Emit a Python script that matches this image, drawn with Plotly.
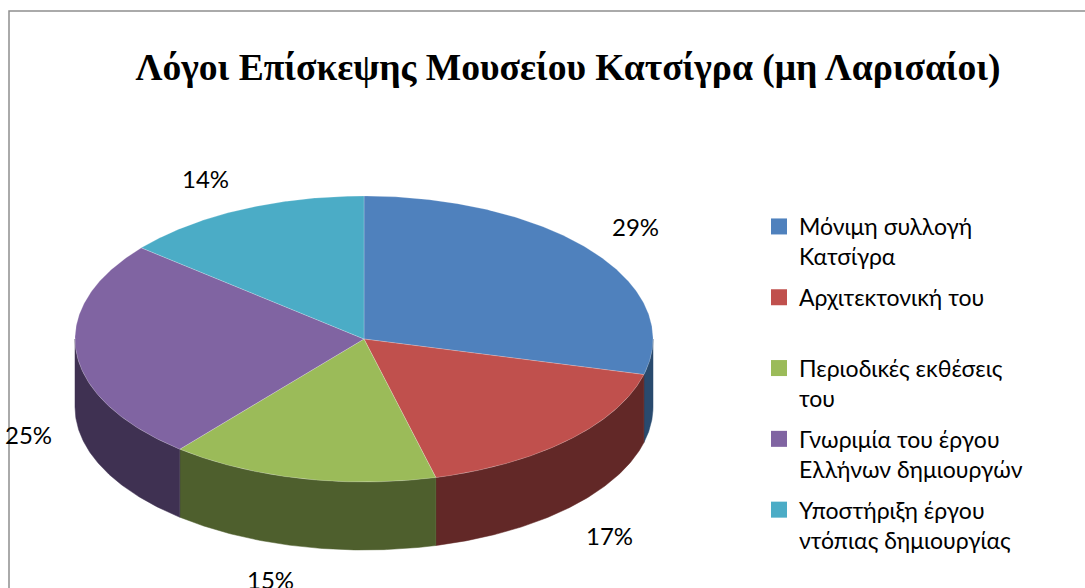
import numpy as np
import plotly.graph_objects as go

# ---- data ----
title = "Λόγοι Επίσκεψης Μουσείου Κατσίγρα (μη Λαρισαίοι)"
categories = [
    "Μόνιμη συλλογή<br>Κατσίγρα",
    "Αρχιτεκτονική του<br> ",
    "Περιοδικές εκθέσεις<br>του",
    "Γνωριμία του έργου<br>Ελλήνων δημιουργών",
    "Υποστήριξη έργου<br>ντόπιας δημιουργίας",
]
values = [29, 17, 15, 25, 14]
top_colors = ["#4F81BD", "#C0504D", "#9BBB59", "#8064A2", "#4BACC6"]
side_colors = ["#294A6E", "#622827", "#4E5F2D", "#3F3152", "#2C6A7A"]

# ---- geometry (layout constants, pixel-like axes) ----
W, H = 1085, 588
cx, cy = 364, 339
rx, ry = 289, 143
depth = 68


def pt(theta_deg, dy=0.0):
    t = np.radians(theta_deg)
    return cx + rx * np.sin(t), cy - ry * np.cos(t) + dy


fig = go.Figure()

total = float(sum(values))
bounds = np.concatenate([[0], np.cumsum(values)]) / total * 360.0

# sides (front half only)
for i, v in enumerate(values):
    a, b = max(bounds[i], 90.0), min(bounds[i + 1], 270.0)
    if a >= b:
        continue
    th = np.linspace(a, b, 120)
    xt, yt = pt(th)
    xb, yb = pt(th[::-1], depth)
    xs = np.concatenate([xt, xb, xt[:1]])
    ys = np.concatenate([yt, yb, yt[:1]])
    fig.add_trace(go.Scatter(x=xs, y=ys, fill="toself", mode="lines",
                             fillcolor=side_colors[i],
                             line=dict(color=side_colors[i], width=0.5),
                             hoverinfo="skip", showlegend=False))

# top faces
for i, v in enumerate(values):
    th = np.linspace(bounds[i], bounds[i + 1], 200)
    xa, ya = pt(th)
    xs = np.concatenate([[cx], xa, [cx]])
    ys = np.concatenate([[cy], ya, [cy]])
    fig.add_trace(go.Scatter(x=xs, y=ys, fill="toself", mode="lines",
                             fillcolor=top_colors[i],
                             line=dict(color="rgba(255,255,255,0.35)", width=0.6),
                             name=categories[i], hoverinfo="name",
                             showlegend=False))

# legend entries
for i, name in enumerate(categories):
    fig.add_trace(go.Scatter(x=[None], y=[None], mode="markers",
                             marker=dict(symbol="square", size=16, color=top_colors[i]),
                             name=name, legendgroup=str(i), showlegend=True))

# percentage labels (outside end, anchored by nearest corner)
annotations = []
gap, half_w, half_h = 22, 26, 11.5
for i, v in enumerate(values):
    mid = (bounds[i] + bounds[i + 1]) / 2.0
    t = np.radians(mid)
    s, c = np.sin(t), np.cos(t)
    ex, ey = pt(mid)
    if c < 0:
        ey += depth
    lx = ex + gap * s + np.sign(s) * half_w
    ly = ey - gap * c - np.sign(c) * half_h
    annotations.append(dict(x=lx, y=ly, xref="x", yref="y",
                            text=f"{round(v / total * 100)}%", showarrow=False,
                            font=dict(family="Lato", size=24, color="#000000"),
                            xanchor="center", yanchor="middle"))

fig.update_layout(
    width=W, height=H,
    margin=dict(l=0, r=0, t=0, b=0),
    paper_bgcolor="white", plot_bgcolor="white",
    title=dict(text=f"<b>{title}</b>", x=568 / W, xanchor="center",
               y=1 - 67 / H, yanchor="middle",
               font=dict(family="Liberation Serif", size=37.6, color="#000000")),
    xaxis=dict(range=[0, W], visible=False, fixedrange=True),
    yaxis=dict(range=[H, 0], visible=False, fixedrange=True),
    legend=dict(x=759 / W, xanchor="left", y=1 - 205 / H, yanchor="top",
                font=dict(family="Lato", size=23, color="#000000"),
                valign="top", tracegroupgap=8, bgcolor="rgba(0,0,0,0)"),
    annotations=annotations,
    shapes=[dict(type="rect", xref="x", yref="y", x0=9, y0=11, x1=W + 20, y1=H + 20,
                 line=dict(color="#8E8E8E", width=1.5), fillcolor="rgba(0,0,0,0)",
                 layer="below")],
    showlegend=True,
)

fig.write_html("out.html", config={"displayModeBar": False},
               post_script="document.body.style.margin='0px';")
